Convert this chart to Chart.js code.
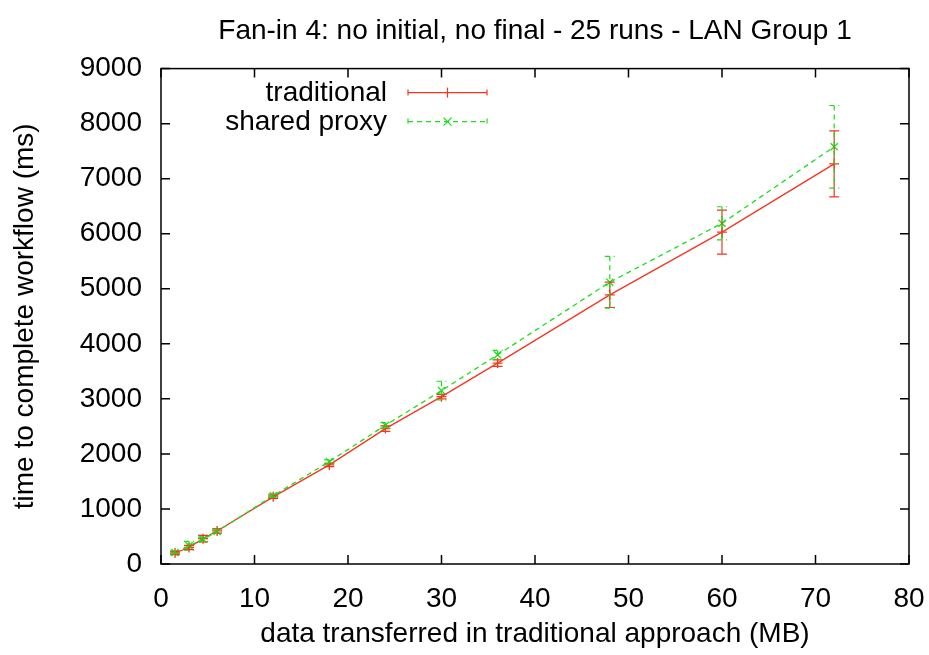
<!DOCTYPE html>
<html>
<head>
<meta charset="utf-8">
<script src="https://cdn.jsdelivr.net/npm/chart.js@4"></script>
<style>
  html, body { margin: 0; padding: 0; background: #fff; }
  #wrap { width: 929px; height: 655px; }
</style>
</head>
<body>
<div id="wrap"><canvas id="chart"></canvas></div>
<script>
const sizes = [1.5, 3, 4.5, 6, 12, 18, 24, 30, 36, 48, 60, 72];
const tradMean = [200, 300, 460, 600, 1220, 1800, 2460, 3040, 3650, 4890, 6030, 7270];
const tradErr = [30, 40, 60, 40, 30, 30, 50, 40, 60, 230, 400, 600];
const proxyMean = [210, 330, 450, 590, 1240, 1860, 2520, 3150, 3800, 5120, 6190, 7580];
const proxyErr = [30, 80, 40, 30, 30, 30, 50, 170, 80, 470, 300, 750];
const xTicks = [0, 80, 10];
const yTicks = [0, 9000, 1000];

const RED = 'rgb(244,54,32)';
const GREEN = 'rgb(26,222,26)';
const FONT = "'Liberation Sans', Arial, sans-serif";

function toPoints(means) {
    return sizes.map((x, i) => ({ x, y: means[i] }));
}

// vertical error bars with small caps, in the dataset's own line style
const errorBars = {
    id: 'errorBars',
    afterDatasetsDraw(chart) {
        const { ctx } = chart;
        const yScale = chart.scales.y;
        const errs = [tradErr, proxyErr];
        chart.data.datasets.forEach((ds, di) => {
            const meta = chart.getDatasetMeta(di);
            ctx.save();
            ctx.strokeStyle = ds.borderColor;
            ctx.lineWidth = 1.2;
            ctx.setLineDash(ds.borderDash || []);
            meta.data.forEach((pt, i) => {
                const v = ds.data[i].y;
                const top = yScale.getPixelForValue(v + errs[di][i]);
                const bot = yScale.getPixelForValue(v - errs[di][i]);
                ctx.beginPath();
                ctx.moveTo(pt.x, top);
                ctx.lineTo(pt.x, bot);
                ctx.moveTo(pt.x - 5, top);
                ctx.lineTo(pt.x + 5, top);
                ctx.moveTo(pt.x - 5, bot);
                ctx.lineTo(pt.x + 5, bot);
                ctx.stroke();
            });
            ctx.restore();
        });
    }
};

// frame with inward ticks on all four sides, plus gnuplot-like key
const frame = {
    id: 'frame',
    afterDraw(chart) {
        const { ctx, chartArea: a, scales } = chart;
        ctx.save();
        ctx.strokeStyle = '#000';
        ctx.lineWidth = 1.5;
        ctx.setLineDash([]);
        ctx.strokeRect(a.left, a.top, a.right - a.left, a.bottom - a.top);
        ctx.beginPath();
        scales.x.ticks.forEach((t) => {
            const px = scales.x.getPixelForValue(t.value);
            ctx.moveTo(px, a.bottom); ctx.lineTo(px, a.bottom - 9);
            ctx.moveTo(px, a.top); ctx.lineTo(px, a.top + 9);
        });
        scales.y.ticks.forEach((t) => {
            const py = scales.y.getPixelForValue(t.value);
            ctx.moveTo(a.left, py); ctx.lineTo(a.left + 9, py);
            ctx.moveTo(a.right, py); ctx.lineTo(a.right - 9, py);
        });
        ctx.stroke();

        // key
        ctx.font = '28px ' + FONT;
        ctx.fillStyle = '#000';
        ctx.textAlign = 'right';
        ctx.textBaseline = 'middle';
        const textX = a.left + 226;
        const x0 = a.left + 247;
        const x1 = a.left + 326;
        const xm = (x0 + x1) / 2;
        chart.data.datasets.forEach((ds, i) => {
            const y = a.top + 24 + i * 29;
            ctx.fillText(ds.label, textX, y + 1);
            ctx.strokeStyle = ds.borderColor;
            ctx.lineWidth = 1.2;
            ctx.setLineDash(ds.borderDash || []);
            ctx.beginPath();
            ctx.moveTo(x0, y); ctx.lineTo(x1, y);
            ctx.moveTo(x0, y - 3); ctx.lineTo(x0, y + 3);
            ctx.moveTo(x1, y - 3); ctx.lineTo(x1, y + 3);
            ctx.stroke();
            ctx.setLineDash([]);
            ctx.beginPath();
            if (ds.pointStyle === 'cross') {
                ctx.moveTo(xm, y - 5); ctx.lineTo(xm, y + 5);
            } else {
                ctx.moveTo(xm - 4, y - 4); ctx.lineTo(xm + 4, y + 4);
                ctx.moveTo(xm - 4, y + 4); ctx.lineTo(xm + 4, y - 4);
            }
            ctx.stroke();
        });
        ctx.restore();
    }
};

new Chart(document.getElementById('chart'), {
    type: 'line',
    data: {
        datasets: [
            {
                label: 'traditional',
                data: toPoints(tradMean),
                borderColor: RED,
                backgroundColor: RED,
                borderWidth: 1.3,
                pointStyle: 'cross',
                pointRadius: 5,
                pointBorderWidth: 1.3,
                order: 1,
            },
            {
                label: 'shared proxy',
                data: toPoints(proxyMean),
                borderColor: GREEN,
                backgroundColor: GREEN,
                borderWidth: 1.3,
                borderDash: [5, 4],
                pointStyle: 'crossRot',
                pointRadius: 5,
                pointBorderWidth: 1.3,
                order: 0,
            },
        ],
    },
    options: {
        responsive: true,
        maintainAspectRatio: false,
        animation: false,
        layout: { padding: { left: 0, right: 20, top: 0, bottom: 0 } },
        scales: {
            x: {
                type: 'linear',
                min: xTicks[0],
                max: xTicks[1],
                grid: { display: false, drawTicks: true, tickLength: 18 },
                border: { display: false },
                ticks: {
                    stepSize: xTicks[2],
                    color: '#000',
                    padding: 0,
                    maxRotation: 0,
                    font: { family: FONT, size: 28 },
                },
                title: {
                    display: true,
                    text: 'data transferred in traditional approach (MB)',
                    color: '#000',
                    padding: { top: 0, bottom: 4 },
                    font: { family: FONT, size: 28 },
                },
                afterFit: (scale) => { scale.height = 91; },
            },
            y: {
                min: yTicks[0],
                max: yTicks[1],
                grid: { display: false, drawTicks: true, tickLength: 19 },
                border: { display: false },
                ticks: {
                    stepSize: yTicks[2],
                    color: '#000',
                    padding: 0,
                    font: { family: FONT, size: 28 },
                    callback: (value) => String(value),
                },
                title: {
                    display: true,
                    text: 'time to complete workflow (ms)',
                    color: '#000',
                    padding: { top: 8, bottom: 0 },
                    font: { family: FONT, size: 28 },
                },
                afterFit: (scale) => { scale.width = 161; },
            },
        },
        plugins: {
            legend: { display: false },
            tooltip: { enabled: false },
            title: {
                display: true,
                fullSize: false,
                text: 'Fan-in 4: no initial, no final - 25 runs - LAN Group 1',
                color: '#000',
                padding: { top: 14, bottom: 21 },
                font: { family: FONT, size: 28, weight: 'normal' },
            },
        },
    },
    plugins: [errorBars, frame],
});
</script>
</body>
</html>
